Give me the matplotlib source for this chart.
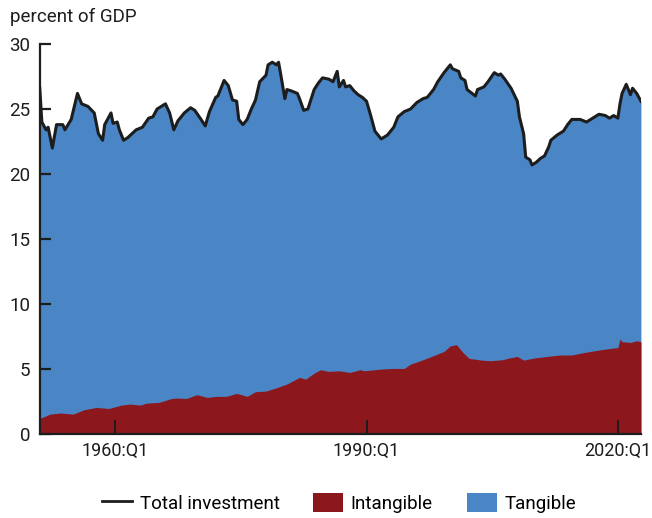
import matplotlib.pyplot as plt
from matplotlib.patches import Patch
from matplotlib.lines import Line2D

plt.rcParams['font.family'] = ['Roboto', 'DejaVu Sans']

# quarters as decimal years (1951.0 = 1951:Q1)
total_dates = [
    1951.00, 1951.25, 1951.75, 1952.00, 1952.50, 1953.00, 1953.75, 1954.00,
    1954.75, 1955.50, 1956.00, 1956.75, 1957.50, 1958.00, 1958.50, 1958.75,
    1959.50, 1959.75, 1960.25, 1960.50, 1961.00, 1961.50, 1962.50, 1963.25,
    1964.00, 1964.50, 1965.00, 1966.00, 1966.50, 1967.00, 1967.50, 1968.25,
    1969.00, 1969.50, 1970.25, 1970.75, 1971.25, 1972.00, 1972.25, 1973.00,
    1973.50, 1974.00, 1974.50, 1974.75, 1975.25, 1975.75, 1976.25, 1976.75,
    1977.25, 1978.00, 1978.25, 1978.75, 1979.25, 1979.50, 1979.75, 1980.25,
    1980.50, 1981.00, 1981.75, 1982.00, 1982.50, 1983.00, 1983.75, 1984.25,
    1984.75, 1985.50, 1986.00, 1986.50, 1986.75, 1987.25, 1987.50, 1988.00,
    1988.50, 1989.00, 1989.50, 1990.00, 1990.50, 1991.00, 1991.75, 1992.50,
    1993.25, 1993.75, 1994.50, 1995.25, 1996.00, 1996.75, 1997.25, 1998.00,
    1998.50, 1999.25, 1999.50, 2000.00, 2000.25, 2001.00, 2001.25, 2001.75,
    2002.00, 2003.00, 2003.25, 2004.00, 2004.50, 2005.25, 2005.75, 2006.00,
    2006.50, 2007.25, 2008.00, 2008.25, 2008.75, 2009.00, 2009.50, 2009.75,
    2010.25, 2010.75, 2011.25, 2011.75, 2012.00, 2012.75, 2013.50, 2014.00,
    2014.50, 2015.50, 2016.25, 2017.00, 2017.75, 2018.50, 2019.00, 2019.50,
    2020.00, 2020.25, 2020.50, 2021.00, 2021.50, 2021.75, 2022.25, 2022.75,
]
total = [
    26.6, 24.0, 23.4, 23.6, 22.0, 23.8, 23.8, 23.4,
    24.2, 26.2, 25.4, 25.2, 24.7, 23.1, 22.6, 23.8,
    24.7, 23.9, 24.0, 23.4, 22.6, 22.8, 23.4, 23.6,
    24.3, 24.4, 25.0, 25.4, 24.7, 23.4, 24.1, 24.7,
    25.1, 24.9, 24.2, 23.7, 24.8, 25.9, 26.0, 27.2,
    26.8, 25.7, 25.6, 24.2, 23.8, 24.2, 25.0, 25.7,
    27.1, 27.6, 28.4, 28.6, 28.4, 28.6, 27.7, 25.8,
    26.5, 26.4, 26.2, 25.8, 24.9, 25.0, 26.5, 27.0,
    27.4, 27.3, 27.1, 27.9, 26.7, 27.2, 26.7, 26.8,
    26.4, 26.1, 25.9, 25.6, 24.5, 23.3, 22.7, 23.0,
    23.6, 24.4, 24.8, 25.0, 25.5, 25.8, 25.9, 26.5,
    27.1, 27.8, 28.0, 28.4, 28.1, 27.9, 27.4, 27.2,
    26.5, 26.0, 26.5, 26.7, 27.1, 27.8, 27.6, 27.7,
    27.3, 26.6, 25.6, 24.4, 23.1, 21.3, 21.1, 20.7,
    20.9, 21.2, 21.4, 22.1, 22.6, 23.0, 23.3, 23.8,
    24.2, 24.2, 24.0, 24.3, 24.6, 24.5, 24.3, 24.5,
    24.3, 25.4, 26.2, 26.9, 26.1, 26.6, 26.2, 25.6,
]

intangible_dates = [
    1951.00, 1952.25, 1953.50, 1955.00, 1956.25, 1957.75, 1959.25, 1960.75,
    1961.75, 1963.00, 1963.75, 1965.25, 1966.75, 1967.50, 1968.50, 1969.75,
    1971.00, 1972.00, 1973.25, 1974.50, 1975.75, 1976.75, 1978.00, 1979.00,
    1980.50, 1982.00, 1982.75, 1983.75, 1984.50, 1985.50, 1986.75, 1988.00,
    1989.25, 1989.75, 1991.75, 1993.25, 1994.50, 1995.25, 1996.75, 1998.25,
    1999.25, 2000.00, 2000.75, 2001.50, 2002.25, 2003.75, 2004.75, 2006.25,
    2007.00, 2008.00, 2008.75, 2010.00, 2011.50, 2013.00, 2014.50, 2016.00,
    2018.00, 2019.50, 2020.00, 2020.25, 2020.50, 2021.50, 2022.25, 2022.75,
]
intangible = [
    1.2, 1.54, 1.62, 1.54, 1.87, 2.05, 1.97, 2.23,
    2.31, 2.23, 2.38, 2.44, 2.74, 2.77, 2.74, 3.03,
    2.82, 2.90, 2.90, 3.13, 2.90, 3.26, 3.31, 3.51,
    3.85, 4.36, 4.23, 4.69, 4.95, 4.82, 4.87, 4.74,
    4.95, 4.87, 5.00, 5.05, 5.05, 5.38, 5.72, 6.10,
    6.36, 6.79, 6.87, 6.28, 5.82, 5.69, 5.64, 5.72,
    5.85, 5.97, 5.69, 5.85, 5.97, 6.08, 6.08, 6.28,
    6.49, 6.62, 6.65, 7.31, 7.10, 7.05, 7.18, 7.10,
]

tick_years = [1960, 1990, 2020]
tick_labels = ['1960:Q1', '1990:Q1', '2020:Q1']

blue = '#4a86c6'
red = '#8c181d'
ink = '#1d1d1d'

fig = plt.figure(figsize=(6.52, 5.18), dpi=100)
ax = fig.add_axes([0.061, 0.162, 0.922, 0.753])

# tangible area sits between the intangible layer and the total line
ax.fill_between(total_dates, 0, total, color=blue, linewidth=0)
ax.fill_between(intangible_dates, 0, intangible, color=red, linewidth=0)
ax.plot(total_dates, total, color=ink, linewidth=2.2)

ax.set_xlim(total_dates[0], total_dates[-1])
ax.set_ylim(0, 30)
ax.set_yticks([0, 5, 10, 15, 20, 25, 30])
ax.set_xticks(tick_years)
ax.set_xticklabels(tick_labels)

for side in ['top', 'right']:
    ax.spines[side].set_visible(False)
for side in ['left', 'bottom']:
    ax.spines[side].set_linewidth(1.6)
    ax.spines[side].set_color(ink)

ax.tick_params(axis='y', direction='in', length=8, width=1.6, labelsize=13.5,
               pad=7, colors=ink)
ax.tick_params(axis='x', direction='in', length=10, width=1.4, labelsize=13,
               pad=6, colors=ink)

fig.text(0.015, 0.968, 'percent of GDP', fontsize=13.5, color=ink, va='center')

handles = [
    Line2D([0], [0], color=ink, linewidth=2),
    Patch(facecolor=red),
    Patch(facecolor=blue),
]
fig.legend(handles, ['Total investment', 'Intangible', 'Tangible'],
           loc='center', bbox_to_anchor=(0.52, 0.029), ncol=3, frameon=False,
           fontsize=13.5, handlelength=1.6, handleheight=1.2, columnspacing=1.8,
           handletextpad=0.4)

fig.savefig('out.png', dpi=100)
